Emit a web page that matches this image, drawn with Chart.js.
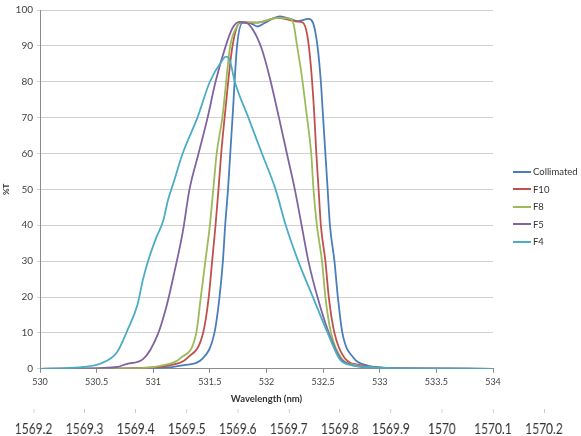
<!DOCTYPE html>
<html>
<head>
<meta charset="utf-8">
<script src="https://cdn.jsdelivr.net/npm/chart.js@4"></script>
<style>
  html, body { margin: 0; padding: 0; background: #fff; overflow: hidden; }
  #wrap { position: relative; width: 581px; height: 436px; overflow: hidden; }
  #main { position: absolute; left: 0; top: 0; }
  #freq { position: absolute; left: 0; top: 365px; transform-origin: 0 0; transform: scaleX(0.8); pointer-events: none; }
  #legend { position: absolute; left: 513px; top: 163px; font: 9.5px Lato, sans-serif; color: #333; }
  #legend div { height: 17.5px; display: flex; align-items: center; }
  #legend span.swatch { display: inline-block; width: 18px; height: 2px; margin-right: 2px; }
</style>
</head>
<body>
<div id="wrap">
  <canvas id="main" width="581" height="405"></canvas>
  <canvas id="freq" width="726" height="80"></canvas>
  <div id="legend"></div>
</div>
<script>
// %T vs wavelength
const collimatedWl = [530, 530.6, 531.05, 531.27, 531.44, 531.54, 531.585, 531.615, 531.635, 531.66, 531.68, 531.70, 531.74, 531.79, 531.86, 531.92, 531.99, 532.12, 532.21, 532.27, 532.37, 532.41, 532.45, 532.48, 532.50, 532.52, 532.54, 532.56, 532.60, 532.63, 532.67, 532.77, 532.88, 532.96, 533.18, 533.6, 534];
const collimatedT = [0, 0.05, 0.2, 1, 3, 10, 20, 30, 40, 50, 60, 70, 90, 96.5, 96.3, 95.4, 96.5, 98.2, 97.5, 96.9, 97.5, 96.5, 90, 80, 70, 60, 50, 40, 30, 20, 10, 3, 1, 0.5, 0.1, 0.02, 0];

const f10Wl = [530, 530.6, 530.96, 531.15, 531.30, 531.44, 531.49, 531.52, 531.55, 531.576, 531.60, 531.63, 531.70, 531.77, 531.92, 532.10, 532.27, 532.32, 532.36, 532.39, 532.42, 532.44, 532.46, 532.48, 532.52, 532.55, 532.60, 532.69, 532.83, 533.0, 533.5, 534];
const f10T = [0, 0.05, 0.3, 1, 3, 10, 20, 30, 40, 50, 60, 70, 90, 96.5, 96.5, 97.8, 96.8, 96.5, 93, 85, 72, 60, 50, 40, 30, 20, 10, 3, 1, 0.3, 0.03, 0];

const f8Wl = [530, 530.5, 530.89, 531.09, 531.24, 531.38, 531.42, 531.46, 531.50, 531.53, 531.56, 531.61, 531.68, 531.74, 531.77, 531.92, 532.10, 532.21, 532.24, 532.27, 532.31, 532.35, 532.395, 532.415, 532.445, 532.49, 532.52, 532.57, 532.66, 532.79, 532.96, 533.4, 534];
const f8T = [0, 0.05, 0.2, 1, 3, 10, 20, 30, 40, 50, 60, 70, 90, 95.5, 96.7, 96.5, 97.8, 97.5, 96, 90, 82, 72, 60, 50, 40, 30, 20, 10, 3, 1, 0.3, 0.03, 0];

const f5Wl = [530, 530.3, 530.53, 530.68, 530.77, 530.91, 531.04, 531.12, 531.18, 531.26, 531.32, 531.40, 531.48, 531.55, 531.64, 531.70, 531.76, 531.82, 531.88, 531.96, 532.03, 532.11, 532.18, 532.25, 532.31, 532.37, 532.45, 532.55, 532.65, 532.76, 532.90, 533.2, 534];
const f5T = [0, 0.05, 0.2, 0.5, 1.4, 2.7, 9.6, 17.8, 26, 38, 50, 60, 70, 80, 90, 95, 96.7, 96.5, 94.5, 89, 81, 70, 60, 50, 40, 30, 20, 10, 3, 1, 0.4, 0.1, 0];

const f4Wl = [530, 530.2, 530.38, 530.53, 530.68, 530.77, 530.86, 530.91, 530.96, 531.02, 531.09, 531.13, 531.18, 531.26, 531.39, 531.50, 531.61, 531.64, 531.67, 531.72, 531.84, 531.96, 532.08, 532.17, 532.28, 532.41, 532.54, 532.65, 532.75, 532.89, 533.1, 533.5, 534];
const f4T = [0, 0.1, 0.5, 1.4, 4.6, 10.6, 17.8, 25, 30.6, 36, 41.5, 47, 52, 60, 70, 80, 86, 87, 86.5, 80, 70, 60, 50, 40, 30, 20, 10, 2.5, 1, 0.5, 0.15, 0.05, 0];

const wavelengthTicks = [530, 530.5, 531, 531.5, 532, 532.5, 533, 533.5, 534];
const percentTicks = [0, 10, 20, 30, 40, 50, 60, 70, 80, 90, 100];
const freqTicks = [1569.2, 1569.3, 1569.4, 1569.5, 1569.6, 1569.7, 1569.8, 1569.9, 1570, 1570.1, 1570.2];

const series = [
  { label: "Collimated", color: "#4a7ebb", wl: collimatedWl, t: collimatedT },
  { label: "F10", color: "#c0504d", wl: f10Wl, t: f10T },
  { label: "F8", color: "#9bbb59", wl: f8Wl, t: f8T },
  { label: "F5", color: "#8064a2", wl: f5Wl, t: f5T },
  { label: "F4", color: "#4bacc6", wl: f4Wl, t: f4T },
];

const fontMain = "Lato, 'Liberation Sans', sans-serif";

// last series on top, like the original
const datasets = series.map((s, i) => ({
  label: s.label,
  data: s.wl.map((w, j) => ({ x: w, y: s.t[j] })),
  borderColor: s.color,
  borderWidth: 1.8,
  pointRadius: 0,
  fill: false,
  cubicInterpolationMode: "monotone",
  order: series.length - i,
}));

new Chart(document.getElementById("main"), {
  type: "line",
  data: { datasets: datasets },
  options: {
    responsive: false,
    animation: false,
    layout: { padding: { left: 0, right: 88, top: 6, bottom: 0 } },
    plugins: { legend: { display: false }, tooltip: { enabled: false } },
    scales: {
      x: {
        type: "linear",
        min: 530,
        max: 534,
        afterBuildTicks: (axis) => { axis.ticks = wavelengthTicks.map(v => ({ value: v })); },
        ticks: {
          callback: (v) => String(v),
          font: { family: fontMain, size: 9 },
          color: "#444",
          padding: 4,
          maxRotation: 0,
          autoSkip: false,
        },
        grid: { drawOnChartArea: false, tickLength: 4, color: "#8c8c8c" },
        border: { color: "#8c8c8c" },
        title: {
          display: true,
          text: "Wavelength (nm)",
          font: { family: fontMain, size: 9.5, weight: "bold" },
          color: "#333",
          padding: { top: 2, bottom: 0 },
        },
      },
      y: {
        min: 0,
        max: 100,
        afterBuildTicks: (axis) => { axis.ticks = percentTicks.map(v => ({ value: v })); },
        afterFit: (axis) => { axis.width = 40; },
        ticks: {
          font: { family: fontMain, size: 10 },
          color: "#444",
          padding: 4,
        },
        grid: { color: "#d0d0d0", tickLength: 3 },
        border: { color: "#8c8c8c" },
        title: {
          display: true,
          text: "%T",
          font: { family: fontMain, size: 8, weight: "bold" },
          color: "#333",
          padding: { top: 2, bottom: 2 },
        },
      },
    },
  },
});

// second row: same span in the other unit (canvas squeezed by CSS, 0.8)
new Chart(document.getElementById("freq"), {
  type: "line",
  data: { datasets: [] },
  options: {
    responsive: false,
    animation: false,
    layout: { padding: { left: 42, right: 46, top: 0, bottom: 0 } },
    plugins: { legend: { display: false }, tooltip: { enabled: false } },
    scales: {
      x: {
        type: "linear",
        min: 1569.2,
        max: 1570.2,
        afterBuildTicks: (axis) => { axis.ticks = freqTicks.map(v => ({ value: v })); },
        ticks: {
          callback: (v) => String(v),
          font: { family: "Lato, sans-serif", size: 15 },
          color: "#333",
          padding: 7,
          maxRotation: 0,
          autoSkip: false,
        },
        grid: { drawOnChartArea: false, tickLength: 4, color: "#c4c4c4" },
        border: { display: false },
      },
      y: { display: false },
    },
  },
});

const legendBox = document.getElementById("legend");
series.forEach((s) => {
  const row = document.createElement("div");
  const sw = document.createElement("span");
  sw.className = "swatch";
  sw.style.background = s.color;
  row.appendChild(sw);
  row.appendChild(document.createTextNode(s.label));
  legendBox.appendChild(row);
});
</script>
</body>
</html>
